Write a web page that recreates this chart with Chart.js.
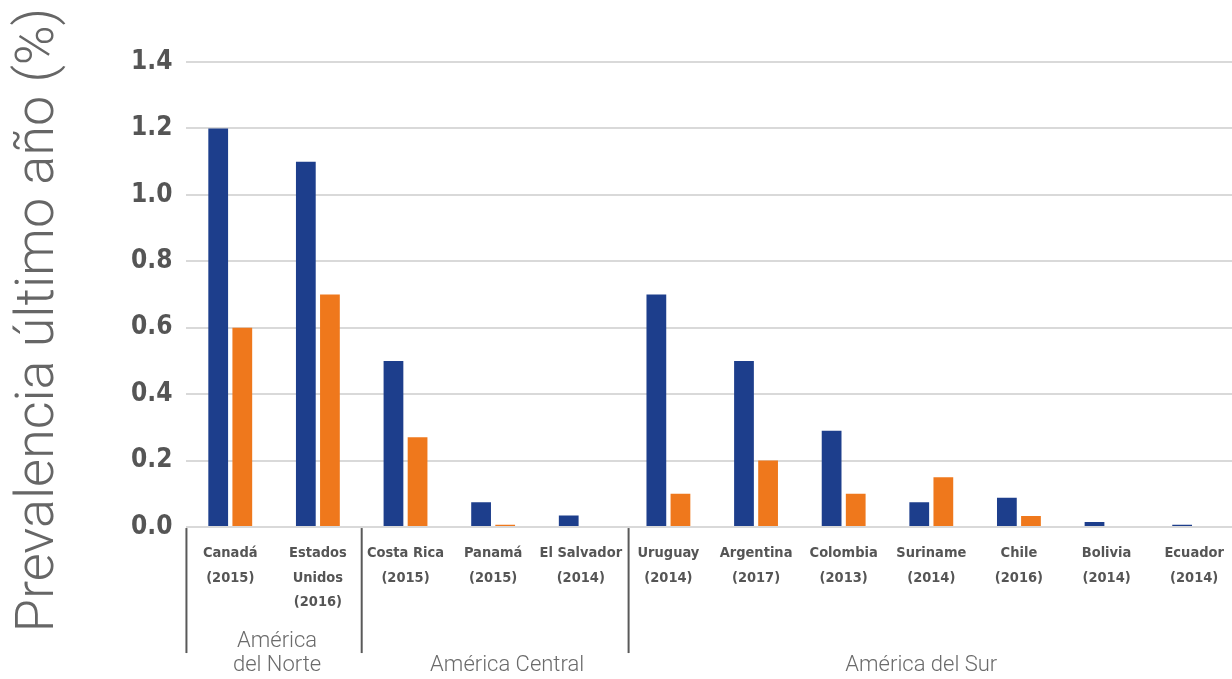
<!DOCTYPE html>
<html>
<head>
<meta charset="utf-8">
<script src="https://cdn.jsdelivr.net/npm/chart.js@4"></script>
<style>
  html, body { margin: 0; padding: 0; background: #fff; overflow: hidden; }
  #wrap { width: 1238px; height: 679px; }
</style>
</head>
<body>
<div id="wrap"><canvas id="myChart" width="1238" height="679"></canvas></div>
<script>
// categories (country + survey year), one entry per line of the label
const countries = [
  ['Canadá', '(2015)'],
  ['Estados', 'Unidos', '(2016)'],
  ['Costa Rica', '(2015)'],
  ['Panamá', '(2015)'],
  ['El Salvador', '(2014)'],
  ['Uruguay', '(2014)'],
  ['Argentina', '(2017)'],
  ['Colombia', '(2013)'],
  ['Suriname', '(2014)'],
  ['Chile', '(2016)'],
  ['Bolivia', '(2014)'],
  ['Ecuador', '(2014)']
];
const blueValues   = [1.2, 1.1, 0.5, 0.075, 0.035, 0.7, 0.5, 0.29, 0.075, 0.088, 0.015, 0.007];
const orangeValues = [0.6, 0.7, 0.27, 0.007, 0, 0.1, 0.2, 0.1, 0.15, 0.033, 0, 0];
const yTicks = [0, 0.2, 0.4, 0.6, 0.8, 1.0, 1.2, 1.4];
const yTitle = 'Prevalencia último año (%)';
// region groups: name lines, first and last category index
const regionNames = [['América', 'del Norte'], ['América Central'], ['América del Sur']];
const regionFrom  = [0, 2, 5];
const regionTo    = [1, 4, 11];

const groupPlugin = {
  id: 'groups',
  afterDraw(chart, args, opts) {
    const x = chart.scales.x;
    const ctx = chart.ctx;
    const half = (x.getPixelForValue(1) - x.getPixelForValue(0)) / 2;
    const top = chart.chartArea.bottom + 1;
    ctx.save();
    ctx.strokeStyle = '#595959';
    ctx.lineWidth = 2;
    regionFrom.forEach((f, i) => {
      const left = x.getPixelForValue(f) - half + opts.lineShift[i];
      ctx.beginPath();
      ctx.moveTo(left, top);
      ctx.lineTo(left, top + 125);
      ctx.stroke();
      const mid = (x.getPixelForValue(f) + x.getPixelForValue(regionTo[i])) / 2 + opts.textShift[i];
      const lines = regionNames[i];
      ctx.fillStyle = '#6b6b6b';
      ctx.font = '300 22px Roboto';
      ctx.textAlign = 'center';
      ctx.textBaseline = 'middle';
      const lastY = top + 137;
      lines.forEach((ln, j) => {
        ctx.fillText(ln, mid, lastY - (lines.length - 1 - j) * 24);
      });
    });
    // big rotated y axis title
    ctx.translate(53, 320);
    ctx.rotate(-Math.PI / 2);
    ctx.fillStyle = '#666';
    ctx.font = '300 54px Roboto';
    ctx.textAlign = 'center';
    ctx.textBaseline = 'alphabetic';
    ctx.fillText(yTitle, 0, 0);
    ctx.restore();
  }
};

const ctx = document.getElementById('myChart').getContext('2d');
const chart = new Chart(ctx, {
  type: 'bar',
  data: {
    labels: countries,
    datasets: [
      { label: 'A', data: blueValues, backgroundColor: '#1d3e8c' },
      { label: 'B', data: orangeValues, backgroundColor: '#ef781c' }
    ]
  },
  options: {
    responsive: false,
    animation: false,
    layout: { padding: { top: 62, bottom: 58, left: 117, right: 0 } },
    datasets: { bar: { categoryPercentage: 0.55, barPercentage: 0.82 } },
    plugins: {
      legend: { display: false },
      tooltip: { enabled: false },
      groups: { lineShift: [0, 0, 4], textShift: [3, 14, -10] }
    },
    scales: {
      x: {
        grid: { display: false },
        border: { display: false },
        ticks: {
          color: '#555',
          font: { family: 'DejaVu Sans Condensed', weight: 'bold', size: 14.5, lineHeight: 1.7 },
          padding: 6,
          maxRotation: 0,
          autoSkip: false
        }
      },
      y: {
        min: 0,
        max: 1.4,
        afterBuildTicks: axis => { axis.ticks = yTicks.map(v => ({ value: v })); },
        grid: { color: '#d9d9d9', lineWidth: 2, drawTicks: false },
        border: { display: false },
        ticks: {
          color: '#555',
          font: { family: 'DejaVu Sans Condensed', weight: 'bold', size: 26 },
          padding: 14,
          callback: v => v.toFixed(1)
        }
      }
    }
  },
  plugins: [groupPlugin]
});
</script>
</body>
</html>
